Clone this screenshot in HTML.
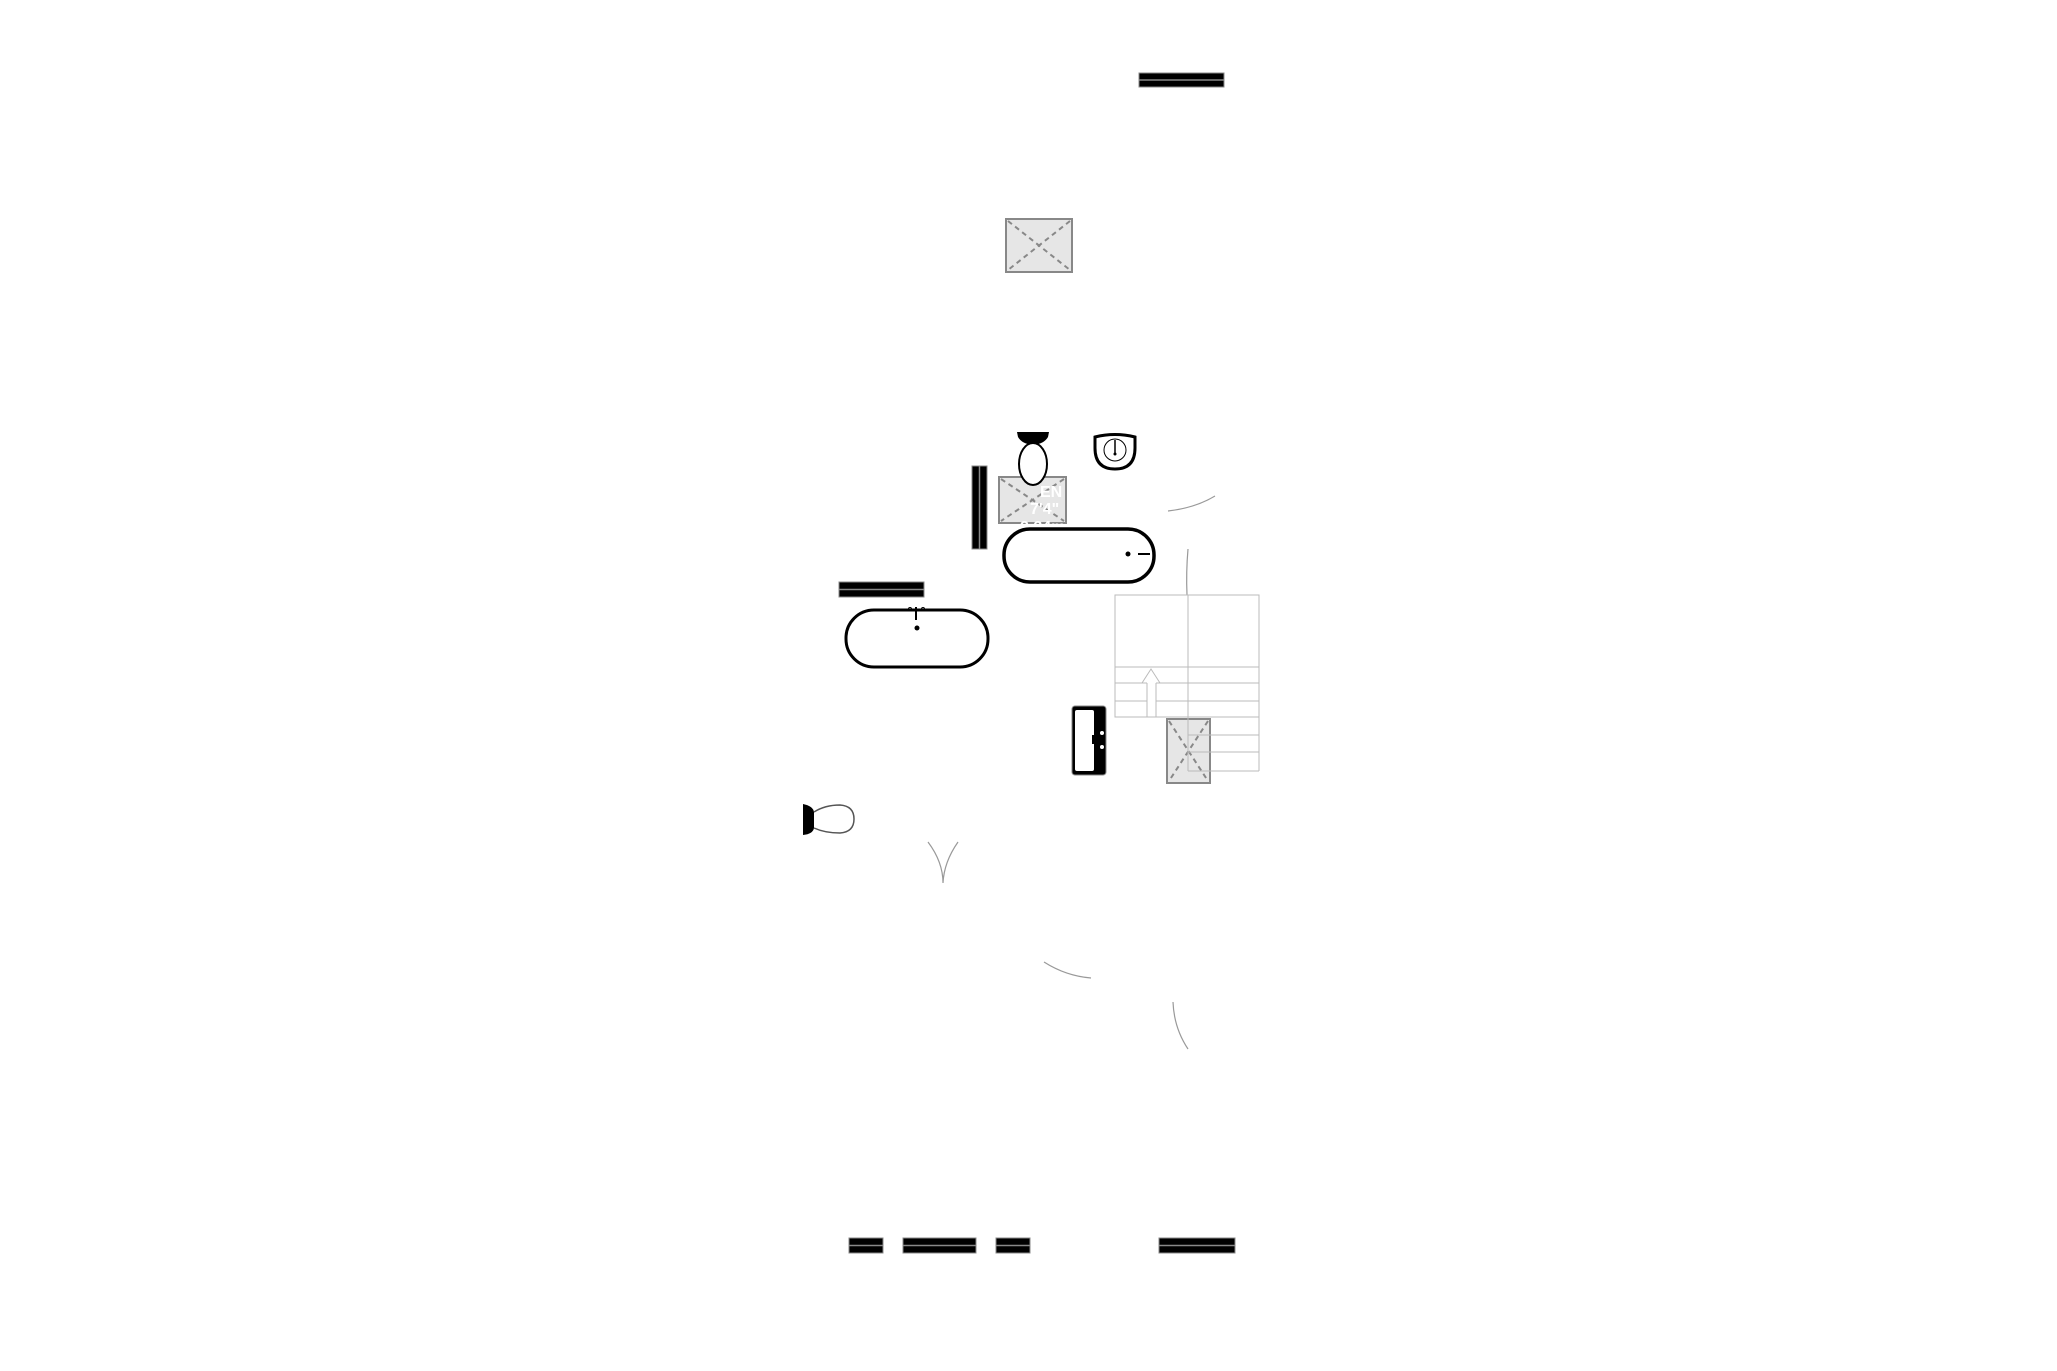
<!DOCTYPE html>
<html><head><meta charset="utf-8"><style>
html,body{margin:0;padding:0;background:#fff;}
svg{display:block;}
</style></head><body>
<svg width="2057" height="1371" viewBox="0 0 2057 1371" xmlns="http://www.w3.org/2000/svg">
<rect width="2057" height="1371" fill="#fff"/>
<g fill="#000" stroke="#888" stroke-width="1">
<rect x="1139" y="73" width="85" height="14"/>
<rect x="839" y="582" width="85" height="15"/>
<rect x="972" y="466" width="15" height="83"/>
<rect x="849" y="1238" width="34" height="15"/>
<rect x="903" y="1238" width="73" height="15"/>
<rect x="996" y="1238" width="34" height="15"/>
<rect x="1159" y="1238" width="76" height="15"/>
</g>
<g stroke="#888" stroke-width="1.5">
<line x1="1139" y1="80" x2="1224" y2="80"/>
<line x1="839" y1="589.5" x2="924" y2="589.5"/>
<line x1="979.5" y1="466" x2="979.5" y2="549"/>
<line x1="849" y1="1245.5" x2="883" y2="1245.5"/>
<line x1="903" y1="1245.5" x2="976" y2="1245.5"/>
<line x1="996" y1="1245.5" x2="1030" y2="1245.5"/>
<line x1="1159" y1="1245.5" x2="1235" y2="1245.5"/>
</g>
<g fill="#e6e6e6" stroke="#888" stroke-width="2">
<rect x="1006" y="219" width="66" height="53"/>
<rect x="999" y="477" width="67" height="46"/>
<rect x="1167" y="719" width="43" height="64"/>
</g>
<g stroke="#888" stroke-width="2" stroke-dasharray="5,4" fill="none">
<line x1="1008" y1="221" x2="1070" y2="270"/><line x1="1070" y1="221" x2="1008" y2="270"/>
<line x1="1001" y1="479" x2="1064" y2="521"/><line x1="1064" y1="479" x2="1001" y2="521"/>
<line x1="1169" y1="721" x2="1208" y2="781"/><line x1="1208" y1="721" x2="1169" y2="781"/>
</g>
<path d="M1017 432 H1049 L1048 437 Q1044 444 1033 445 Q1022 444 1018 437 Z" fill="#000"/>
<ellipse cx="1033" cy="464" rx="14" ry="21" fill="#fff" stroke="#000" stroke-width="2"/>
<path d="M1095 437 Q1115 432 1135 437 L1135 448 Q1135 469 1115 469 Q1095 469 1095 448 Z" fill="#fff" stroke="#000" stroke-width="3"/>
<circle cx="1115" cy="450" r="11" fill="none" stroke="#000" stroke-width="1"/>
<line x1="1115" y1="440" x2="1115" y2="453" stroke="#000" stroke-width="1.5"/>
<circle cx="1115" cy="454" r="1.5" fill="#000"/>
<g fill="#fff" font-family="Liberation Sans, sans-serif" font-weight="bold" font-size="16">
<text x="1040" y="497">EN</text>
<text x="1030" y="514">7'4"</text>
<text x="1020" y="532">2.24m x 1.95m</text>
</g>
<rect x="1004" y="529" width="150" height="53" rx="26" fill="#fff" stroke="#000" stroke-width="3.5"/>
<circle cx="1128" cy="554" r="2.5" fill="#000"/>
<line x1="1138" y1="554" x2="1150" y2="554" stroke="#000" stroke-width="2"/>
<rect x="846" y="610" width="142" height="57" rx="28" fill="#fff" stroke="#000" stroke-width="3"/>
<circle cx="917" cy="628" r="2.5" fill="#000"/>
<line x1="916" y1="607" x2="916" y2="620" stroke="#000" stroke-width="2"/>
<circle cx="910" cy="609" r="1.5" fill="none" stroke="#000"/><circle cx="923" cy="609" r="1.5" fill="none" stroke="#000"/>
<g fill="none" stroke="#999" stroke-width="1.2">
<path d="M1168 511 Q1195 508 1215 496"/>
<path d="M1188 549 Q1186 572 1187 595"/>
<path d="M928 842 Q943 862 943 883 Q944 862 958 842"/>
<path d="M1044 962 Q1066 976 1091 978"/>
<path d="M1173 1002 Q1174 1028 1188 1049"/>
</g>
<g fill="none" stroke="#bbb" stroke-width="1">
<rect x="1115" y="595" width="144" height="122"/>
<line x1="1188" y1="595" x2="1188" y2="771"/>
<line x1="1115" y1="667" x2="1259" y2="667"/>
<line x1="1115" y1="683" x2="1147" y2="683"/><line x1="1156" y1="683" x2="1259" y2="683"/>
<line x1="1115" y1="701" x2="1147" y2="701"/><line x1="1156" y1="701" x2="1259" y2="701"/>
<line x1="1147" y1="683" x2="1147" y2="717"/><line x1="1156" y1="683" x2="1156" y2="717"/>
<path d="M1142 683 L1151 669 L1160 683"/>
<line x1="1188" y1="735" x2="1259" y2="735"/>
<line x1="1188" y1="752" x2="1259" y2="752"/>
<line x1="1188" y1="771" x2="1259" y2="771"/>
<line x1="1259" y1="717" x2="1259" y2="771"/>
</g>
<rect x="1072" y="706" width="34" height="69" rx="3" fill="#000" stroke="#888" stroke-width="1"/>
<rect x="1075" y="710" width="19" height="61" rx="2" fill="#fff"/>
<rect x="1092" y="735" width="6" height="9" fill="#000"/>
<circle cx="1102" cy="733" r="2" fill="#fff"/><circle cx="1102" cy="747" r="2" fill="#fff"/>
<path d="M803 804 Q813 806 814 812 L814 828 Q813 834 803 835 Z" fill="#000"/>
<path d="M814 812 Q825 805 840 805 Q854 806 854 819 Q854 832 840 833 Q825 833 814 828" fill="#fff" stroke="#555" stroke-width="1.5"/>
</svg>
</body></html>
